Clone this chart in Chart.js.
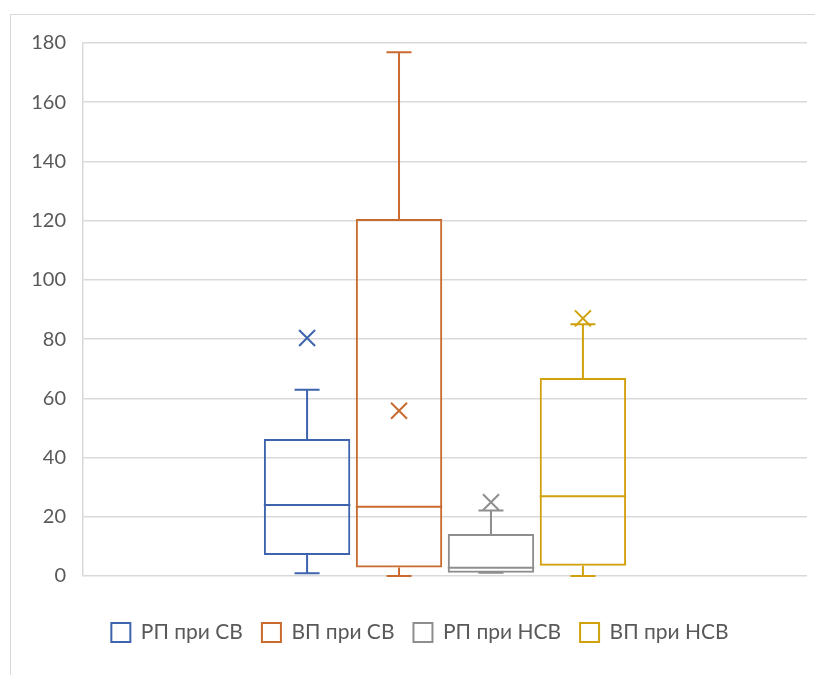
<!DOCTYPE html>
<html>
<head>
<meta charset="utf-8">
<title>Box plot</title>
<script src="https://cdn.jsdelivr.net/npm/chart.js@4.4.0/dist/chart.umd.min.js"></script>
<style>
  html, body { margin: 0; padding: 0; background: #fff; }
  #wrap { width: 815px; height: 675px; }
</style>
</head>
<body>
<div id="wrap"><canvas id="chart" width="815" height="675"></canvas></div>
<script>
// one box per series: whiskers, quartiles, median and mean (the cross)
const seriesNames = ['РП при СВ', 'ВП при СВ', 'РП при НСВ', 'ВП при НСВ'];
const seriesColors = ['#3d64ac', '#c96a2f', '#8e8e8e', '#d0a10c'];
const minValues = [0.9, 0, 1.1, 0];
const q1Values = [7.1, 2.9, 1.1, 3.5];
const medianValues = [24.0, 23.4, 2.8, 26.9];
const q3Values = [46.3, 120.6, 14.2, 66.9];
const maxValues = [62.9, 176.9, 22.1, 85.0];
const meanValues = [80.4, 55.8, 24.9, 87.0];

// y axis
const yMin = 0;
const yMax = 180;
const yStep = 20;

Chart.defaults.font.family = 'Lato, "Open Sans", sans-serif';
Chart.defaults.color = '#595959';

// light frame around the whole chart
const frame = {
  id: 'frame',
  beforeDraw(chart) {
    const ctx = chart.ctx;
    ctx.save();
    ctx.strokeStyle = '#d9d9d9';
    ctx.lineWidth = 1;
    ctx.strokeRect(10.5, 14.5, 900, 700);
    ctx.restore();
  }
};

// whiskers, caps, median line and mean cross on top of the floating bars
const boxExtras = {
  id: 'boxExtras',
  afterDatasetsDraw(chart) {
    const ctx = chart.ctx;
    const y = chart.scales.y;
    chart.data.datasets.forEach((ds, i) => {
      const bar = chart.getDatasetMeta(i).data[0];
      const x = bar.x;
      const half = bar.width / 2;
      const capHalf = 12.5;
      ctx.save();
      ctx.strokeStyle = seriesColors[i];
      ctx.lineWidth = 2;
      ctx.beginPath();
      // upper whisker + cap
      ctx.moveTo(x, y.getPixelForValue(q3Values[i]));
      ctx.lineTo(x, y.getPixelForValue(maxValues[i]));
      ctx.moveTo(x - capHalf, y.getPixelForValue(maxValues[i]));
      ctx.lineTo(x + capHalf, y.getPixelForValue(maxValues[i]));
      // lower whisker + cap
      ctx.moveTo(x, y.getPixelForValue(q1Values[i]));
      ctx.lineTo(x, y.getPixelForValue(minValues[i]));
      ctx.moveTo(x - capHalf, y.getPixelForValue(minValues[i]));
      ctx.lineTo(x + capHalf, y.getPixelForValue(minValues[i]));
      // median
      ctx.moveTo(x - half, y.getPixelForValue(medianValues[i]));
      ctx.lineTo(x + half, y.getPixelForValue(medianValues[i]));
      ctx.stroke();
      // mean
      const my = y.getPixelForValue(meanValues[i]);
      const s = 8;
      ctx.beginPath();
      ctx.moveTo(x - s, my - s);
      ctx.lineTo(x + s, my + s);
      ctx.moveTo(x + s, my - s);
      ctx.lineTo(x - s, my + s);
      ctx.stroke();
      ctx.restore();
    });
  }
};

const datasets = seriesNames.map((name, i) => ({
  label: name,
  data: [[q1Values[i], q3Values[i]]],
  backgroundColor: 'rgba(0,0,0,0)',
  borderColor: seriesColors[i],
  borderWidth: 2,
  borderSkipped: false,
  categoryPercentage: 0.508,
  barPercentage: 0.94
}));

new Chart(document.getElementById('chart'), {
  type: 'bar',
  data: { labels: [''], datasets: datasets },
  options: {
    responsive: false,
    animation: false,
    layout: { padding: { left: 33, right: 8, top: 43, bottom: 22 } },
    plugins: {
      legend: {
        position: 'bottom',
        labels: {
          boxWidth: 19,
          boxHeight: 19,
          padding: 19,
          color: '#595959',
          font: { size: 21 }
        }
      },
      tooltip: { enabled: false }
    },
    scales: {
      x: {
        ticks: { display: false },
        grid: { display: false },
        border: { display: false },
        afterFit(scale) { scale.height = 27; }
      },
      y: {
        min: yMin,
        max: yMax,
        ticks: { stepSize: yStep, padding: 17, color: '#595959', font: { size: 20 } },
        grid: { color: '#d9d9d9', lineWidth: 1.5, drawTicks: false },
        border: { display: true, color: '#d9d9d9', width: 1.5 },
        afterFit(scale) { scale.width = 50; }
      }
    }
  },
  plugins: [frame, boxExtras]
});
</script>
</body>
</html>
